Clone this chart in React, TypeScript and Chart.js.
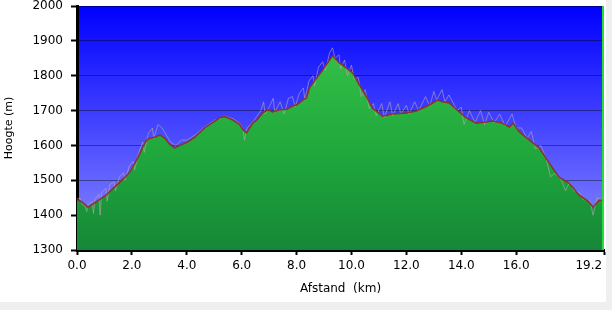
import React, { useEffect, useRef } from "react";
import { Chart, registerables } from "chart.js";

Chart.register(...registerables);

// Smoothed elevation profile
const distanceKm = [
  0.0, 0.15, 0.4, 0.65, 1.02, 1.38, 1.75, 1.93, 2.22, 2.47, 2.58, 2.84, 3.02, 3.2, 3.38, 3.56,
  3.75, 4.04, 4.29, 4.65, 5.02, 5.2, 5.42, 5.67, 5.93, 6.04, 6.18, 6.4, 6.55, 6.76, 6.95, 7.13,
  7.38, 7.64, 7.85, 8.0, 8.22, 8.36, 8.47, 8.73, 8.95, 9.2, 9.31, 9.56, 9.82, 10.04, 10.29, 10.55,
  10.76, 11.13, 11.49, 12.0, 12.36, 12.84, 13.13, 13.31, 13.56, 13.93, 14.18, 14.55, 14.91, 15.13,
  15.49, 15.75, 15.89, 16.11, 16.47, 16.84, 17.2, 17.56, 17.93, 18.29, 18.65, 18.8, 19.02, 19.2,
];
const elevationM = [
  1443, 1440, 1423, 1436, 1455, 1481, 1509, 1524, 1565, 1607, 1618, 1624, 1630, 1621, 1603, 1593,
  1600, 1610, 1624, 1650, 1670, 1680, 1682, 1673, 1660, 1645, 1636, 1664, 1673, 1693, 1702, 1696,
  1702, 1704, 1713, 1716, 1730, 1736, 1765, 1793, 1816, 1845, 1857, 1837, 1822, 1808, 1773, 1739,
  1707, 1684, 1690, 1693, 1699, 1716, 1730, 1725, 1722, 1696, 1679, 1664, 1667, 1670,
  1664, 1653, 1664, 1639, 1616, 1593, 1550, 1509, 1492, 1458, 1438, 1423, 1443, 1443,
];

// Raw (noisy) GPS elevation readings
const rawKm = [
  0.0, 0.1, 0.2, 0.3, 0.35, 0.4, 0.55, 0.6, 0.65, 0.8, 0.84, 0.9, 1.05, 1.1, 1.2, 1.35, 1.4, 1.55,
  1.7, 1.75, 1.9, 2.05, 2.1, 2.25, 2.4, 2.45, 2.6, 2.75, 2.8, 2.95, 3.1, 3.25, 3.4, 3.6, 3.8, 4.0,
  4.3, 4.65, 5.0, 5.4, 5.7, 5.95, 6.05, 6.1, 6.2, 6.45, 6.7, 6.8, 6.85, 7.0, 7.15, 7.2, 7.4, 7.55,
  7.7, 7.85, 7.95, 8.1, 8.25, 8.3, 8.45, 8.6, 8.65, 8.8, 8.95, 9.05, 9.2, 9.31, 9.4, 9.55, 9.6,
  9.75, 9.85, 10.0, 10.1, 10.25, 10.35, 10.5, 10.65, 10.8, 10.9, 11.1, 11.2, 11.4, 11.5, 11.7,
  11.8, 12.0, 12.1, 12.3, 12.45, 12.7, 12.85, 13.0, 13.1, 13.3, 13.4, 13.55, 13.75, 13.85, 14.0,
  14.1, 14.3, 14.5, 14.7, 14.85, 15.0, 15.2, 15.4, 15.6, 15.85, 16.0, 16.2, 16.4, 16.55, 16.7,
  16.9, 17.1, 17.25, 17.4, 17.65, 17.8, 17.95, 18.1, 18.3, 18.45, 18.7, 18.8, 18.95, 19.1, 19.2,
];
const rawM = [
  1445, 1450, 1430, 1425, 1410, 1428, 1440, 1405, 1445, 1460, 1400, 1465, 1478, 1440, 1488, 1495,
  1470, 1510, 1522, 1500, 1540, 1555, 1530, 1580, 1610, 1580, 1635, 1650, 1620, 1660, 1650, 1630,
  1610, 1600, 1615, 1615, 1630, 1652, 1672, 1684, 1676, 1662, 1645, 1615, 1650, 1672, 1700, 1725,
  1690, 1710, 1735, 1695, 1725, 1690, 1735, 1740, 1710, 1750, 1765, 1730, 1785, 1800, 1770, 1825,
  1840, 1815, 1865, 1880, 1850, 1860, 1820, 1845, 1800, 1830, 1790, 1795, 1740, 1760, 1705, 1720,
  1685, 1720, 1680, 1725, 1685, 1720, 1690, 1715, 1690, 1725, 1700, 1740, 1712, 1755, 1730, 1760,
  1725, 1745, 1715, 1700, 1710, 1660, 1700, 1665, 1700, 1660, 1695, 1665, 1690, 1655, 1690, 1650,
  1650, 1620, 1640, 1590, 1600, 1560, 1510, 1520, 1500, 1470, 1495, 1470, 1465, 1445, 1440, 1400,
  1450, 1445, 1445,
];

const xTickValues = [0, 2, 4, 6, 8, 10, 12, 14, 16, 19.2];
const yMin = 1300;
const yMax = 2000;
const yStep = 100;
const yTitle = "Hoogte (m)";
const xTitle = "Afstand  (km)";

const FONT = "'DejaVu Sans', Verdana, sans-serif";

export default function App() {
  const ref = useRef<HTMLCanvasElement | null>(null);

  useEffect(() => {
    document.body.style.margin = "0";
    const canvas = ref.current;
    if (!canvas) return;

    const smooth = distanceKm.map((x, i) => ({ x, y: elevationM[i] }));
    const raw = rawKm.map((x, i) => ({ x, y: rawM[i] }));
    const xMax = xTickValues[xTickValues.length - 1];

    const bgPlugin = {
      id: "bg",
      beforeDraw(chart: any) {
        const { ctx, chartArea } = chart;
        ctx.save();
        ctx.fillStyle = "#efefef";
        ctx.fillRect(0, 0, chart.width, chart.height);
        ctx.fillStyle = "#ffffff";
        ctx.fillRect(0, 0, 606, 302);
        const g = ctx.createLinearGradient(0, chartArea.top, 0, chartArea.bottom);
        g.addColorStop(0, "rgb(0,0,255)");
        g.addColorStop(1, "rgb(140,140,255)");
        ctx.fillStyle = g;
        ctx.fillRect(chartArea.left, chartArea.top, chartArea.right - chartArea.left, chartArea.bottom - chartArea.top);
        ctx.restore();
      },
      afterDatasetsDraw(chart: any) {
        const { ctx, chartArea } = chart;
        ctx.save();
        ctx.fillStyle = "rgb(40,220,60)";
        ctx.fillRect(chartArea.right - 2, chartArea.top, 2, chartArea.bottom - chartArea.top);
        ctx.restore();
      },
    };

    const chart = new Chart(canvas, {
      type: "line",
      data: {
        datasets: [
          {
            data: smooth,
            order: 2,
            borderWidth: 0,
            borderColor: "rgba(0,0,0,0)",
            pointRadius: 0,
            fill: "start",
            backgroundColor: (c: any) => {
              const { chart } = c;
              const { ctx, chartArea } = chart;
              if (!chartArea) return "rgb(30,160,60)";
              const g = ctx.createLinearGradient(0, chartArea.top + 50, 0, chartArea.bottom);
              g.addColorStop(0, "rgb(50,190,70)");
              g.addColorStop(0.55, "rgb(30,165,60)");
              g.addColorStop(1, "rgb(22,135,55)");
              return g;
            },
          },
          {
            data: raw,
            order: 1,
            borderWidth: 1,
            borderColor: "rgba(185,165,175,0.6)",
            pointRadius: 0,
            fill: false,
          },
          {
            data: smooth,
            order: 0,
            borderWidth: 1.5,
            borderColor: "rgb(140,50,40)",
            pointRadius: 0,
            fill: false,
          },
        ],
      },
      options: {
        animation: false,
        responsive: false,
        devicePixelRatio: 1,
        events: [],
        layout: { padding: { top: 6, right: 8, left: 0, bottom: 0 } },
        plugins: { legend: { display: false }, tooltip: { enabled: false } },
        scales: {
          x: {
            type: "linear",
            min: 0,
            max: xMax,
            afterFit: (s: any) => {
              s.height = 60;
              s.paddingLeft = 0;
              s.paddingRight = 0;
            },
            afterBuildTicks: (s: any) => {
              s.ticks = xTickValues.map((v) => ({ value: v }));
            },
            ticks: {
              color: "#000",
              font: { family: FONT, size: 12 },
              padding: 4,
              maxRotation: 0,
              autoSkip: false,
              callback: (v: any) => {
                const label = Number(v).toFixed(1);
                // keep the last label inside the panel, as in the original
                return Number(v) === xMax ? label + "\u00a0".repeat(8) : label;
              },
            },
            grid: {
              drawOnChartArea: false,
              drawTicks: true,
              tickLength: 5,
              tickColor: "#000",
              tickWidth: 2,
            },
            border: { color: "#000", width: 3 },
            title: {
              display: true,
              text: xTitle,
              color: "#000",
              font: { family: FONT, size: 12 },
              padding: { top: 0, bottom: 14 },
            },
          },
          y: {
            type: "linear",
            min: yMin,
            max: yMax,
            z: 1,
            afterFit: (s: any) => {
              s.width = 77;
              s.paddingTop = 0;
              s.paddingBottom = 0;
            },
            ticks: {
              stepSize: yStep,
              color: "#000",
              font: { family: FONT, size: 12 },
              padding: 8,
              callback: (v: any) => String(v),
            },
            grid: {
              color: "rgba(0,0,0,0.4)",
              lineWidth: 1,
              tickLength: 6,
              tickColor: "#000",
              tickWidth: 2,
            },
            border: { color: "#000", width: 3 },
            title: {
              display: true,
              text: yTitle,
              color: "#000",
              font: { family: FONT, size: 11 },
              padding: { top: 3, bottom: 0 },
            },
          },
        },
      },
      plugins: [bgPlugin],
    });

    return () => chart.destroy();
  }, []);

  return (
    <div style={{ position: "absolute", left: 0, top: 0, width: 612, height: 310 }}>
      <canvas ref={ref} width={612} height={310} style={{ width: 612, height: 310, display: "block" }} />
    </div>
  );
}
